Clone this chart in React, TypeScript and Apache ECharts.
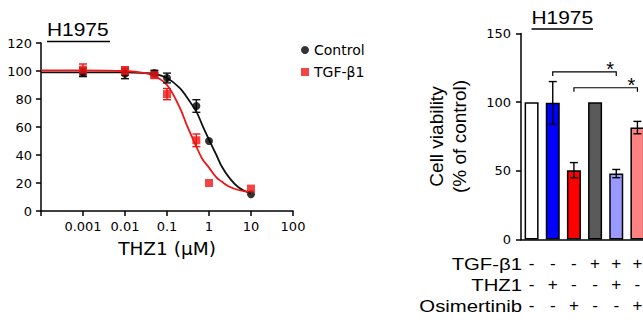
import React, { useEffect, useRef } from "react";
import * as echarts from "echarts";

// ---- Dose–response data (left panel) ----
const doses = [0.001, 0.01, 0.05, 0.1, 0.5, 1, 10];
const controlMean = [99, 98, 98.5, 95, 75, 50, 12];
const controlErr = [3, 3.5, 2, 3.5, 4.5, 0, 0];
const tgfMean = [101, 100, 97, 83.5, 50.5, 20, 16];
const tgfErr = [4, 3, 2, 4, 4.5, 0, 0];

// fitted curves
const fitDoses = [0.0001, 0.001, 0.01, 0.03, 0.05, 0.1, 0.2, 0.3, 0.5, 0.7, 1, 1.5, 2, 3, 5, 10];
const controlFit = [99, 99, 99, 98.5, 98, 95, 88, 81, 71, 61, 51, 40, 32, 24, 17, 12.5];
const tgfFit = [100.5, 100.5, 100, 98.5, 96.5, 90, 74, 61, 46, 37, 31, 24, 21, 17.5, 15, 13.5];

const xTickLabels = ["", "0.001", "0.01", "0.1", "1", "10", "100"];

// ---- Bar data (right panel) ----
const barCategories = ["a", "b", "c", "d", "e", "f"];
const viability = [100, 99.5, 50.5, 100, 48, 81.5];
const viabilityErr = [0, 15.5, 5.5, 0, 3, 4.5];
const barColors = ["#ffffff", "#0000ff", "#ff0000", "#5a5a5a", "#9999ff", "#ff8282"];
const tgfRow = ["-", "-", "-", "+", "+", "+"];
const thz1Row = ["-", "+", "-", "-", "+", "-"];
const osiRow = ["-", "-", "+", "-", "-", "+"];
const rowNames = ["TGF-β1", "THZ1", "Osimertinib"];
const comparisons = [
  [1, 4, 122],
  [2, 5, 110.5],
];

const FONT = "DejaVu Sans";
const ARIAL = "Liberation Sans";

function errSeries(xIdx: number, data: number[][], color: string, cap: number) {
  return {
    type: "custom",
    xAxisIndex: xIdx,
    yAxisIndex: xIdx,
    silent: true,
    z: 4,
    data,
    encode: { x: 0, y: [1, 2] },
    renderItem: (_p: any, api: any) => {
      const lo = api.coord([api.value(0), api.value(1)]);
      const hi = api.coord([api.value(0), api.value(2)]);
      const st = { stroke: color, lineWidth: 1.4 };
      return {
        type: "group",
        children: [
          { type: "line", shape: { x1: lo[0], y1: lo[1], x2: hi[0], y2: hi[1] }, style: st },
          { type: "line", shape: { x1: lo[0] - cap, y1: lo[1], x2: lo[0] + cap, y2: lo[1] }, style: st },
          { type: "line", shape: { x1: hi[0] - cap, y1: hi[1], x2: hi[0] + cap, y2: hi[1] }, style: st },
        ],
      };
    },
  };
}

export default function App() {
  const ref = useRef<HTMLDivElement>(null);
  useEffect(() => {
    if (!ref.current) return;
    const chart = echarts.init(ref.current, undefined, { renderer: "svg" });

    const ctrlErrData = doses
      .map((x, i) => [x, controlMean[i] - controlErr[i], controlMean[i] + controlErr[i]])
      .filter((_, i) => controlErr[i] > 0);
    const tgfErrData = doses
      .map((x, i) => [x, tgfMean[i] - tgfErr[i], tgfMean[i] + tgfErr[i]])
      .filter((_, i) => tgfErr[i] > 0);
    const barErrData = viability
      .map((v, i) => [i, v - viabilityErr[i], v + viabilityErr[i]])
      .filter((_, i) => viabilityErr[i] > 0);

    const axisLineStyle = { color: "#000", width: 1.5 };

    const option: any = {
      animation: false,
      legend: {
        orient: "vertical",
        left: 296,
        top: 38,
        itemWidth: 8,
        itemHeight: 8,
        itemGap: 8,
        data: [
          { name: "Control", icon: "circle" },
          { name: "TGF-β1", icon: "rect" },
        ],
        textStyle: { fontFamily: FONT, fontSize: 14, color: "#000", lineHeight: 14 },
      },
      grid: [
        { left: 41, top: 43, right: 355, bottom: 109 },
        { left: 521, top: 33.5, right: 0, bottom: 80.5 },
      ],
      xAxis: [
        {
          gridIndex: 0,
          type: "log",
          logBase: 10,
          min: 0.0001,
          max: 100,
          splitNumber: 6,
          axisLine: { lineStyle: axisLineStyle },
          axisTick: { length: 5, lineStyle: { color: "#000", width: 1.5 } },
          splitLine: { show: false },
          axisLabel: {
            margin: 9,
            color: "#000",
            fontFamily: FONT,
            fontSize: 13,
            formatter: (v: number) => xTickLabels[Math.round(Math.log10(v)) + 4] ?? "",
          },
          name: "THZ1 (μM)",
          nameLocation: "middle",
          nameGap: 28,
          nameTextStyle: { fontFamily: FONT, fontSize: 18.5, color: "#000" },
        },
        {
          gridIndex: 1,
          type: "category",
          data: barCategories,
          axisLine: { lineStyle: axisLineStyle },
          axisTick: { show: false },
          axisLabel: {
            margin: 13,
            color: "#000",
            fontFamily: ARIAL,
            fontSize: 17,
            lineHeight: 21,
            interval: 0,
            formatter: (_v: string, i: number) => [tgfRow[i], thz1Row[i], osiRow[i]].join("\n"),
          },
        },
      ],
      yAxis: [
        {
          gridIndex: 0,
          type: "value",
          min: 0,
          max: 120,
          interval: 20,
          axisLine: { show: true, lineStyle: axisLineStyle },
          axisTick: { show: true, length: 5, lineStyle: { color: "#000", width: 1.5 } },
          splitLine: { show: false },
          axisLabel: { margin: 9, color: "#000", fontFamily: FONT, fontSize: 13 },
        },
        {
          gridIndex: 1,
          type: "value",
          min: 0,
          max: 150,
          interval: 50,
          axisLine: { show: true, lineStyle: axisLineStyle },
          axisTick: { show: true, length: 5, lineStyle: { color: "#000", width: 1.5 } },
          splitLine: { show: false },
          axisLabel: { margin: 10, color: "#000", fontFamily: FONT, fontSize: 13 },
          name: "Cell viability\n(% of control)",
          nameLocation: "middle",
          nameGap: 50,
          nameTextStyle: { fontFamily: ARIAL, fontSize: 19, lineHeight: 23, color: "#000" },
        },
      ],
      series: [
        {
          name: "Control fit",
          type: "line",
          xAxisIndex: 0,
          yAxisIndex: 0,
          smooth: 0.4,
          symbol: "none",
          silent: true,
          lineStyle: { color: "#111", width: 1.8 },
          data: fitDoses.map((x, i) => [x, controlFit[i]]),
          z: 2,
        },
        {
          name: "TGF fit",
          type: "line",
          xAxisIndex: 0,
          yAxisIndex: 0,
          smooth: 0.4,
          symbol: "none",
          silent: true,
          lineStyle: { color: "#f01414", width: 1.8 },
          data: fitDoses.map((x, i) => [x, tgfFit[i]]),
          z: 2,
        },
        errSeries(0, ctrlErrData, "#111", 4),
        {
          name: "Control",
          type: "scatter",
          xAxisIndex: 0,
          yAxisIndex: 0,
          symbol: "circle",
          symbolSize: 8,
          itemStyle: { color: "#000" },
          data: doses.map((x, i) => [x, controlMean[i]]),
          z: 5,
        },
        errSeries(0, tgfErrData, "#f01414", 4),
        {
          name: "TGF-β1",
          type: "scatter",
          xAxisIndex: 0,
          yAxisIndex: 0,
          symbol: "rect",
          symbolSize: 8,
          itemStyle: { color: "#f01414" },
          data: doses.map((x, i) => [x, tgfMean[i]]),
          z: 6,
        },
        {
          name: "Viability",
          type: "bar",
          xAxisIndex: 1,
          yAxisIndex: 1,
          barWidth: 14,
          data: viability.map((v, i) => ({ value: v, itemStyle: { color: barColors[i] } })),
          itemStyle: { borderColor: "#000", borderWidth: 1.5 },
        },
        errSeries(1, barErrData, "#000", 4),
        {
          name: "Significance",
          type: "custom",
          xAxisIndex: 1,
          yAxisIndex: 1,
          silent: true,
          z: 8,
          itemStyle: { color: "#000" },
          data: comparisons,
          encode: { x: [0, 1], y: 2 },
          renderItem: (_p: any, api: any) => {
            const h = api.value(2);
            const p1 = api.coord([api.value(0), h]);
            const p2 = api.coord([api.value(1), h]);
            const drop = 4;
            return {
              type: "group",
              children: [
                {
                  type: "polyline",
                  shape: {
                    points: [
                      [p1[0], p1[1] + drop],
                      [p1[0], p1[1]],
                      [p2[0], p2[1]],
                      [p2[0], p2[1] + drop],
                    ],
                  },
                  style: { stroke: "#000", lineWidth: 1.2, fill: "none" },
                },
                {
                  type: "text",
                  x: p2[0] - 6,
                  y: p2[1] - 3,
                  style: {
                    text: "*",
                    fill: "#000000",
                    stroke: "none",
                    font: `20px ${ARIAL}`,
                    align: "center",
                    verticalAlign: "middle",
                    textAlign: "center",
                    textVerticalAlign: "middle",
                  },
                },
              ],
            };
          },
        },
      ],
      graphic: [
        {
          type: "text",
          x: 47,
          y: 29,
          scaleX: 1.1,
          style: {
            text: "H1975",
            fill: "#000",
            font: `19px ${ARIAL}`,
            align: "left",
            verticalAlign: "middle",
            textAlign: "left",
            textVerticalAlign: "middle",
          },
        },
        { type: "line", shape: { x1: 47, y1: 41.5, x2: 110, y2: 41.5 }, style: { stroke: "#000", lineWidth: 1.5 } },
        {
          type: "text",
          x: 531.5,
          y: 17.5,
          scaleX: 1.1,
          style: {
            text: "H1975",
            fill: "#000",
            font: `19px ${ARIAL}`,
            align: "left",
            verticalAlign: "middle",
            textAlign: "left",
            textVerticalAlign: "middle",
          },
        },
        { type: "line", shape: { x1: 531.5, y1: 29, x2: 593, y2: 29 }, style: { stroke: "#000", lineWidth: 1.5 } },
        ...rowNames.map((t, i) => ({
          type: "text",
          x: 522,
          y: 264 + i * 21,
          scaleX: 1.27,
          style: {
            text: t,
            fill: "#000",
            font: `16px ${ARIAL}`,
            align: "right",
            verticalAlign: "middle",
            textAlign: "right",
            textVerticalAlign: "middle",
          },
        })),
      ],
    };
    chart.setOption(option);
    return () => chart.dispose();
  }, []);
  return (
    <div style={{ position: "absolute", left: 0, top: 0, width: 643, height: 320, overflow: "hidden" }}>
      <div ref={ref} style={{ width: 648, height: 320 }} />
    </div>
  );
}
